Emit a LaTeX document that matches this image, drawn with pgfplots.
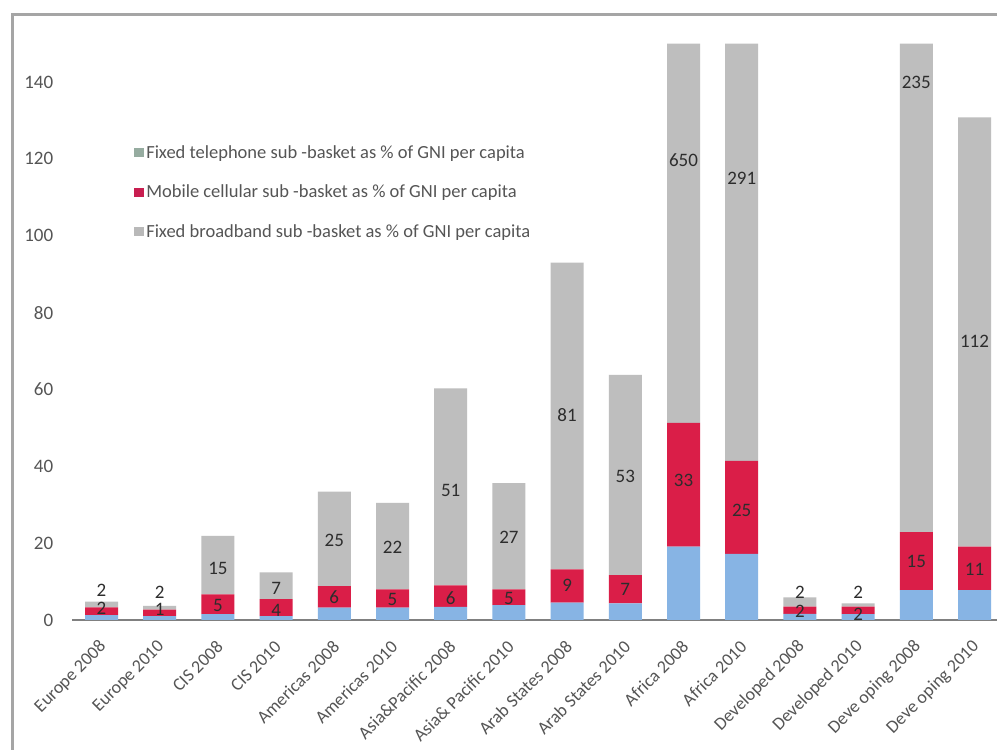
\documentclass[border=0pt]{standalone}
\usepackage{pgfplots}
\pgfplotsset{compat=1.18}
\usepackage{fontspec}
\setmainfont{Carlito}
\definecolor{barblue}{RGB}{135,180,228}
\definecolor{barred}{RGB}{218,30,72}
\definecolor{bargray}{RGB}{190,190,190}
\definecolor{leggreen}{RGB}{150,172,160}
\definecolor{legred}{RGB}{200,30,80}
\definecolor{leggray}{RGB}{185,185,185}
\definecolor{txt}{RGB}{85,85,85}
\definecolor{labtxt}{RGB}{45,45,45}
\definecolor{framegray}{RGB}{165,165,165}
\definecolor{axisgray}{RGB}{128,128,128}
\tikzset{lab/.style={font=\fontsize{19}{22}\selectfont, text=labtxt, inner sep=0pt}}
\pgfplotsset{myframe/.style={
  at={(72.4pt,130pt)}, anchor=south west,
  scale only axis, width=931.2pt, height=576.4pt,
  xmin=-0.5, xmax=15.5, ymin=0, ymax=150}}
\begin{document}
\begin{tikzpicture}
\path[use as bounding box] (0,0) rectangle (997pt,750pt);
\clip (0,0) rectangle (997pt,750pt);
\fill[white] (0,0) rectangle (997pt,750pt);
\draw[framegray, line width=3pt] (12pt,-10pt) -- (12pt,735pt) -- (1010pt,735pt);
\begin{axis}[
  myframe,
  ybar stacked, bar width=33pt,
  separate axis lines,
  axis x line*=bottom, axis y line*=left,
  y axis line style={draw=none},
  x axis line style={-, draw=axisgray, line width=2.5pt},
  major tick length=0pt,
  ytick={0,20,...,140},
  xtick={0,...,15},
  xticklabels={Europe 2008, Europe 2010, CIS 2008, CIS 2010, Americas 2008, Americas 2010, Asia\&Pacific 2008, Asia\& Pacific 2010, Arab States 2008, Arab States 2010, Africa 2008, Africa 2010, Developed 2008, Developed 2010, Deve oping 2008, Deve oping 2010},
  /pgf/number format/assume math mode=true,
  yticklabel style={font=\fontsize{19}{22}\selectfont, text=txt, anchor=east, inner sep=0pt, xshift=-19pt},
  xticklabel style={font=\fontsize{18}{21}\selectfont, text=txt, inner sep=0pt, xshift=2pt, yshift=-24pt, rotate=45, anchor=east},
  legend image code/.code={\fill[#1] (0pt,-4.5pt) rectangle (10pt,4.5pt);},
  legend style={at={(0.063,0.830)}, anchor=north west, draw=none, fill=none,
    font=\fontsize{18.5}{21}\selectfont, text=txt, row sep=21pt,
    /tikz/every even column/.append style={column sep=2pt}},
  legend cell align=left,
  clip=false,
]
\addlegendimage{fill=leggreen, draw=none}
\addlegendentry{Fixed telephone sub -basket as \% of GNI per capita}
\addlegendimage{fill=legred, draw=none}
\addlegendentry{Mobile cellular sub -basket as \% of GNI per capita}
\addlegendimage{fill=leggray, draw=none}
\addlegendentry{Fixed broadband sub -basket as \% of GNI per capita}

\addplot[fill=barblue, draw=none, forget plot] coordinates {
(0,1.3) (1,1.0) (2,1.5) (3,1.0) (4,3.2) (5,3.2) (6,3.4) (7,3.9)
(8,4.5) (9,4.3) (10,19.1) (11,17.2) (12,1.6) (13,1.5) (14,7.8) (15,7.8)};
\addplot[fill=barred, draw=none, forget plot] coordinates {
(0,2.0) (1,1.7) (2,5.2) (3,4.4) (4,5.6) (5,4.8) (6,5.6) (7,4.1)
(8,8.7) (9,7.4) (10,32.2) (11,24.2) (12,1.9) (13,2.0) (14,15.1) (15,11.3)};
\addplot[fill=bargray, draw=none, forget plot] coordinates {
(0,1.5) (1,1.0) (2,15.2) (3,7.0) (4,24.6) (5,22.5) (6,51.3) (7,27.6)
(8,79.8) (9,52.1) (10,98.7) (11,108.6) (12,2.4) (13,0.8) (14,127.1) (15,111.7)};
\end{axis}
% value labels, drawn through a second axis with the same frame
\begin{axis}[
  myframe, hide axis, clip=false,
  nodes near coords, point meta=explicit symbolic,
  nodes near coords align={center},
  every node near coord/.append style={lab},
]
% broadband sub-basket labels
\addplot[only marks, mark=none] coordinates {
(0,7.6)[2] (1,7.2)[2] (2,13.5)[15] (3,8.3)[7] (4,20.8)[25] (5,18.8)[22]
(6,33.8)[51] (7,21.5)[27] (8,53.2)[81] (9,37.3)[53] (10,119.7)[650]
(11,115)[291] (12,7.2)[2] (13,7.2)[2] (14,140)[235] (15,72.6)[112]};
% mobile sub-basket labels
\addplot[only marks, mark=none] coordinates {
(0,3.1)[2] (1,2.8)[1] (2,3.7)[5] (3,2.4)[4] (4,5.9)[6] (5,5.4)[5]
(6,5.6)[6] (7,5.5)[5] (8,9.1)[9] (9,8.0)[7] (10,36.4)[33] (11,28.6)[25]
(12,2.2)[2] (13,1.6)[2] (14,15.2)[15] (15,13.2)[11]};
\end{axis}
\end{tikzpicture}
\end{document}
